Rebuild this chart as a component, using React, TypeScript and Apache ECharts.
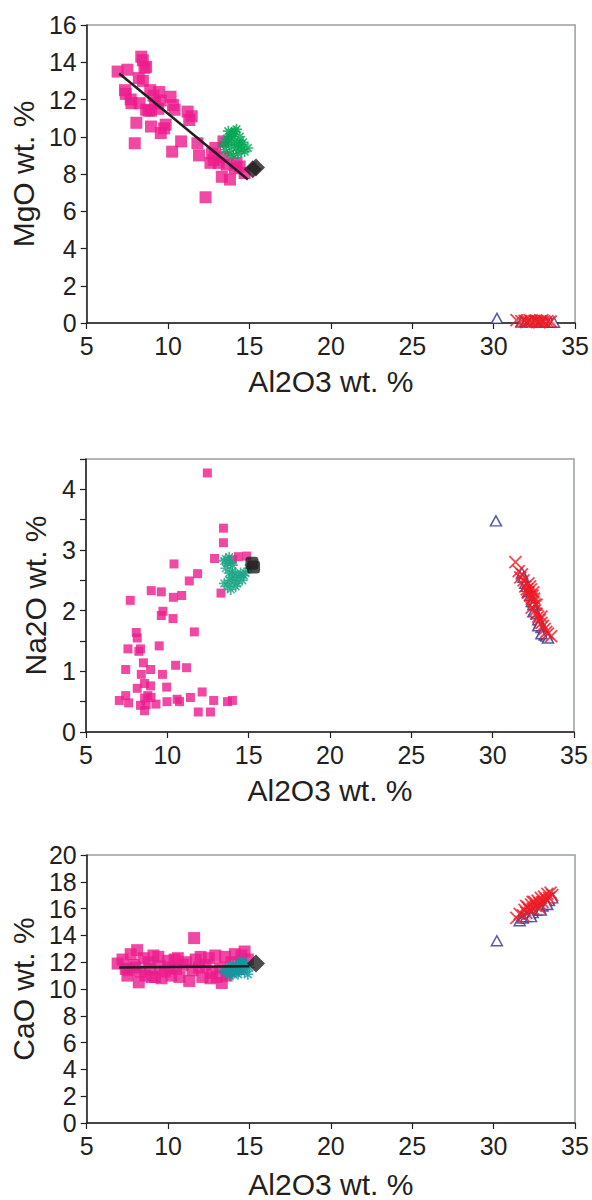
import React, { useEffect, useRef } from "react";
import * as echarts from "echarts";

// ---- Al2O3 vs MgO ----
const mgoGlass: number[][] = [
  [6.9, 13.5], [7.5, 13.6], [8.35, 14.3], [8.45, 14.1], [8.55, 13.7], [8.65, 13.75], [8.2, 13.15], [8.45, 13.0],
  [7.35, 12.5], [7.4, 12.3], [7.7, 12.0], [7.75, 11.8], [8.25, 11.8], [8.65, 11.45], [8.9, 12.5], [8.95, 11.4],
  [9.45, 12.4], [9.55, 11.95], [9.4, 11.5], [10.15, 12.15], [10.3, 11.7], [10.4, 11.45], [8.05, 10.75], [8.95, 10.55],
  [9.85, 10.65], [9.55, 10.2], [9.75, 10.45], [7.95, 9.65], [10.8, 9.75], [10.25, 9.2], [11.2, 11.35], [11.45, 11.1],
  [11.3, 10.9], [11.8, 9.65], [11.9, 9.0], [12.3, 6.75], [12.8, 8.75], [12.7, 9.1], [12.9, 9.4], [13.3, 7.85],
  [13.8, 7.7], [14.2, 8.6], [14.7, 8.05], [14.1, 8.3], [13.1, 8.6], [13.4, 8.9], [13.4, 9.75], [12.6, 8.6],
  [13.6, 8.5], [14.4, 8.4], [9.1, 12.2], [9.2, 11.8], [8.8, 11.4],
];
const mgoMelt: number[][] = [
  [13.4, 9.6], [13.6, 9.9], [13.7, 10.3], [13.8, 10.0], [13.9, 9.5], [14.0, 10.2], [14.1, 9.8], [14.2, 10.4],
  [14.3, 9.6], [14.4, 10.0], [14.5, 9.3], [14.6, 9.7], [14.7, 9.2], [14.9, 9.4], [13.5, 9.3], [13.8, 9.1],
  [14.0, 9.0], [14.3, 9.1], [13.7, 9.7], [14.2, 9.4], [14.5, 9.6], [13.9, 10.1], [14.1, 10.3],
];
const mgoParent: number[][] = [[15.2, 8.25], [15.4, 8.35]];
const mgoTrend: number[][] = [[7.0, 13.4], [14.9, 7.7]];
const mgoPlagA: number[][] = [
  [30.2, 0.25], [31.7, 0.05], [32.0, 0.08], [32.3, 0.06], [32.6, 0.07], [32.9, 0.05], [33.2, 0.06], [33.5, 0.05], [33.7, 0.04],
];
const mgoPlagB: number[][] = [
  [31.4, 0.15], [31.7, 0.1], [31.9, 0.12], [32.1, 0.08], [32.3, 0.1], [32.5, 0.12], [32.7, 0.08], [32.9, 0.1],
  [33.1, 0.09], [33.3, 0.1], [33.5, 0.08], [32.2, 0.15], [32.6, 0.14], [32.0, 0.05], [32.8, 0.04], [33.0, 0.14],
];

// ---- Al2O3 vs Na2O ----
const naGlass: number[][] = [
  [12.46, 4.27], [13.45, 3.36], [13.45, 3.12], [12.9, 2.86], [14.37, 2.89], [14.88, 2.9], [14.0, 2.84], [13.3, 2.29],
  [10.41, 2.77], [11.86, 2.61], [11.35, 2.49], [9.01, 2.33], [9.63, 2.31], [10.88, 2.25], [10.37, 2.22], [7.72, 2.17],
  [9.73, 1.99], [9.63, 1.92], [10.35, 1.87], [11.66, 1.65], [8.09, 1.64], [8.15, 1.55], [9.5, 1.42], [7.58, 1.37],
  [8.25, 1.33], [8.35, 1.37], [7.44, 1.03], [8.53, 1.14], [8.97, 1.03], [8.4, 0.95], [9.7, 0.95], [10.51, 1.1],
  [11.18, 1.06], [8.6, 0.8], [8.97, 0.76], [9.96, 0.74], [8.15, 0.72], [7.05, 0.52], [7.44, 0.6], [7.62, 0.48],
  [8.35, 0.44], [8.6, 0.56], [9.0, 0.57], [9.3, 0.46], [8.6, 0.35], [9.98, 0.5], [10.6, 0.54], [10.75, 0.5],
  [11.42, 0.57], [12.14, 0.66], [11.9, 0.33], [12.65, 0.33], [12.85, 0.52], [13.7, 0.5], [14.0, 0.52], [8.8, 0.6],
  [8.7, 0.45],
];
const naMelt: number[][] = [
  [13.5, 2.82], [13.6, 2.85], [13.7, 2.78], [13.8, 2.88], [13.9, 2.8], [14.0, 2.75], [13.6, 2.7], [13.5, 2.45],
  [13.7, 2.4], [13.8, 2.5], [13.9, 2.35], [14.0, 2.55], [14.1, 2.48], [14.2, 2.6], [14.3, 2.45], [14.4, 2.55],
  [14.5, 2.62], [14.6, 2.5], [14.7, 2.58], [14.2, 2.4], [14.0, 2.65], [14.8, 2.62], [15.0, 2.7], [13.8, 2.62],
];
const naParent: number[][] = [[15.2, 2.78], [15.3, 2.72]];
const naPlagA: number[][] = [
  [30.2, 3.48], [31.8, 2.62], [31.9, 2.55], [32.0, 2.45], [32.1, 2.4], [32.2, 2.32], [32.3, 2.25], [32.4, 2.15],
  [32.5, 2.1], [32.6, 2.0], [32.7, 1.95], [32.8, 1.85], [32.9, 1.8], [33.0, 1.72], [33.1, 1.65], [33.2, 1.6],
  [33.3, 1.58], [33.4, 1.55], [32.5, 1.98], [32.8, 1.75], [33.0, 1.62],
];
const naPlagB: number[][] = [
  [31.4, 2.8], [31.6, 2.65], [31.7, 2.55], [31.8, 2.6], [31.9, 2.5], [32.0, 2.4], [32.1, 2.35], [32.2, 2.45],
  [32.2, 2.3], [32.3, 2.25], [32.35, 2.35], [32.4, 2.2], [32.5, 2.15], [32.5, 2.3], [32.6, 2.1], [32.6, 2.0],
  [32.7, 1.95], [32.8, 1.9], [32.9, 1.85], [33.0, 1.8], [33.1, 1.75], [33.2, 1.7], [33.3, 1.65], [33.4, 1.62],
  [33.6, 1.58], [32.4, 2.05], [32.7, 2.1], [32.3, 2.4], [32.45, 2.25], [32.55, 2.2], [32.15, 2.3], [33.0, 1.9],
];

// ---- Al2O3 vs CaO ----
const caGlass: number[][] = [
  [6.9, 11.9], [7.2, 12.2], [7.4, 11.5], [7.5, 11.0], [7.7, 12.6], [7.9, 11.8], [8.1, 12.9], [8.2, 10.5],
  [8.3, 11.3], [8.5, 12.3], [8.6, 11.0], [8.8, 12.0], [8.9, 11.5], [9.1, 12.5], [9.2, 10.9], [9.4, 12.4],
  [9.5, 11.7], [9.6, 10.8], [9.8, 11.3], [10.0, 12.1], [10.2, 11.0], [10.4, 12.2], [10.5, 11.5], [10.7, 10.9],
  [10.9, 11.8], [11.1, 12.0], [11.3, 10.6], [11.5, 11.4], [11.6, 13.8], [11.7, 12.2], [11.9, 11.6], [12.1, 10.9],
  [12.3, 11.8], [12.5, 12.3], [12.7, 11.2], [12.9, 12.5], [13.0, 10.9], [13.2, 11.6], [13.3, 10.45], [13.5, 12.4],
  [13.7, 11.3], [13.9, 12.0], [14.1, 12.6], [14.3, 11.5], [14.5, 12.5], [14.7, 12.8], [14.9, 12.2], [8.0, 11.6],
  [9.0, 10.9], [10.1, 11.6], [12.0, 12.4], [13.6, 11.0], [7.6, 11.4], [10.6, 12.3], [12.6, 10.8],
];
const caMelt: number[][] = [
  [13.4, 11.4], [13.6, 11.2], [13.7, 11.6], [13.8, 11.0], [13.9, 11.5], [14.0, 11.8], [14.1, 11.3], [14.2, 11.7],
  [14.3, 11.1], [14.4, 11.9], [14.5, 11.5], [14.6, 12.0], [14.7, 11.3], [14.8, 11.8], [14.9, 11.1], [15.0, 11.6],
  [14.2, 11.2], [14.5, 12.1],
];
const caParent: number[][] = [[15.4, 11.9]];
const caTrend: number[][] = [[7.0, 11.6], [15.0, 11.7]];
const caPlagA: number[][] = [
  [30.2, 13.6], [31.6, 15.1], [31.8, 15.3], [32.0, 15.4], [32.2, 15.6], [32.4, 15.7], [32.6, 15.9], [32.8, 16.0],
  [33.0, 16.2], [33.2, 16.4], [33.4, 16.6], [33.6, 16.8], [32.3, 15.4], [32.9, 15.9], [33.3, 16.3],
];
const caPlagB: number[][] = [
  [31.4, 15.3], [31.6, 15.6], [31.8, 15.5], [31.9, 15.9], [32.0, 15.7], [32.1, 16.1], [32.2, 15.9], [32.3, 16.3],
  [32.4, 16.0], [32.5, 16.5], [32.6, 16.2], [32.7, 16.6], [32.8, 16.4], [32.9, 16.8], [33.0, 16.5], [33.1, 16.9],
  [33.2, 16.7], [33.3, 17.1], [33.4, 16.8], [33.5, 17.2], [33.6, 17.0], [32.0, 16.2], [32.4, 16.5], [32.8, 16.1],
];

const xTitle = "Al2O3 wt. %";
const yTitles = ["MgO wt. %", "Na2O wt. %", "CaO wt. %"];

const INK = "#231F20";
const FONT = "Liberation Sans, Arial, Helvetica, sans-serif";
const MAGENTA = "#EC1C8C";
const NAVY = "#2E3192";
const RED = "#ED1C24";

const STAR = "path://M5,0L5,10M0,5L10,5M1.5,1.5L8.5,8.5M8.5,1.5L1.5,8.5";
const CROSS = "path://M0,0L10,10M10,0L0,10";

export default function App() {
  const ref = useRef<HTMLDivElement>(null);

  useEffect(() => {
    if (!ref.current) return;
    const chart = echarts.init(ref.current, undefined, { renderer: "svg" });

    const grids = [
      { left: 83, top: 25, width: 493, height: 298 },
      { left: 86, top: 459, width: 488, height: 273 },
      { left: 82, top: 855, width: 493, height: 272 },
    ];
    const xGaps = [43, 43, 46];
    const yGaps = [39, 36, 37];

    const xAxis = grids.map((_, i) => ({
      gridIndex: i,
      type: "value",
      min: 5,
      max: 35,
      interval: 5,
      axisLine: { show: true, onZero: false, lineStyle: { color: INK, width: 1.5 } },
      axisTick: { show: true, length: 6, lineStyle: { color: INK, width: 1.2 } },
      axisLabel: { fontSize: 25, color: INK, margin: 10, fontFamily: FONT },
      splitLine: { show: false },
      name: xTitle,
      nameLocation: "middle",
      nameGap: xGaps[i],
      nameTextStyle: { fontSize: 30, color: INK, fontFamily: FONT },
    }));

    const yRanges = [
      { max: 16, interval: 2 },
      { max: 4.5, interval: 0.5 },
      { max: 20, interval: 2 },
    ];
    const yAxis = yRanges.map((r, i) => ({
      gridIndex: i,
      type: "value",
      min: 0,
      max: r.max,
      interval: r.interval,
      axisLine: { show: true, onZero: false, lineStyle: { color: INK, width: 1.5 } },
      axisTick: { show: true, length: 6, lineStyle: { color: INK, width: 1.2 } },
      axisLabel: {
        fontSize: 25,
        color: INK,
        margin: 10,
        fontFamily: FONT,
        formatter: (v: number) => (i === 1 && v % 1 !== 0 ? "" : String(v)),
      },
      splitLine: { show: false },
      name: yTitles[i],
      nameLocation: "middle",
      nameGap: yGaps[i],
      nameTextStyle: { fontSize: 30, color: INK, fontFamily: FONT },
    }));

    const glass = (i: number, data: number[][], size: number) => ({
      type: "scatter",
      xAxisIndex: i,
      yAxisIndex: i,
      data,
      symbol: "rect",
      symbolSize: size,
      itemStyle: { color: MAGENTA },
      z: 2,
    });
    const melt = (i: number, data: number[][], color: string) => ({
      type: "scatter",
      xAxisIndex: i,
      yAxisIndex: i,
      data,
      symbol: STAR,
      symbolSize: 11,
      itemStyle: { color: "none", borderColor: color, borderWidth: 1.6 },
      z: 3,
    });
    const parent = (i: number, data: number[][], symbol: string, size: number) => ({
      type: "scatter",
      xAxisIndex: i,
      yAxisIndex: i,
      data,
      symbol,
      symbolSize: size,
      itemStyle: { color: INK },
      z: 5,
    });
    const trend = (i: number, data: number[][]) => ({
      type: "line",
      xAxisIndex: i,
      yAxisIndex: i,
      data,
      symbol: "none",
      lineStyle: { color: INK, width: 2.5 },
      z: 4,
    });
    const plagA = (i: number, data: number[][]) => ({
      type: "scatter",
      xAxisIndex: i,
      yAxisIndex: i,
      data,
      symbol: "triangle",
      symbolSize: [11, 10],
      itemStyle: { color: "#ffffff", borderColor: NAVY, borderWidth: 1.5 },
      z: 2,
    });
    const plagB = (i: number, data: number[][]) => ({
      type: "scatter",
      xAxisIndex: i,
      yAxisIndex: i,
      data,
      symbol: CROSS,
      symbolSize: 12,
      itemStyle: { color: "none", borderColor: RED, borderWidth: 1.8 },
      z: 3,
    });

    chart.setOption({
      animation: false,
      grid: grids.map((g) => ({ ...g, show: true, borderColor: "#9A9EA3", borderWidth: 1.5, backgroundColor: "transparent" })),
      xAxis,
      yAxis,
      series: [
        glass(0, mgoGlass, 12),
        melt(0, mgoMelt, "#00A651"),
        trend(0, mgoTrend),
        parent(0, mgoParent, "diamond", 18),
        plagA(0, mgoPlagA),
        plagB(0, mgoPlagB),

        glass(1, naGlass, 9),
        melt(1, naMelt, "#1BA586"),
        parent(1, naParent, "roundRect", 13),
        plagA(1, naPlagA),
        plagB(1, naPlagB),

        glass(2, caGlass, 12),
        melt(2, caMelt, "#0E9AA0"),
        trend(2, caTrend),
        parent(2, caParent, "diamond", 18),
        plagA(2, caPlagA),
        plagB(2, caPlagB),
      ],
    });

    return () => chart.dispose();
  }, []);

  return (
    <div
      ref={ref}
      style={{ position: "absolute", left: 0, top: 0, width: 592, height: 1200, background: "#ffffff" }}
    />
  );
}
